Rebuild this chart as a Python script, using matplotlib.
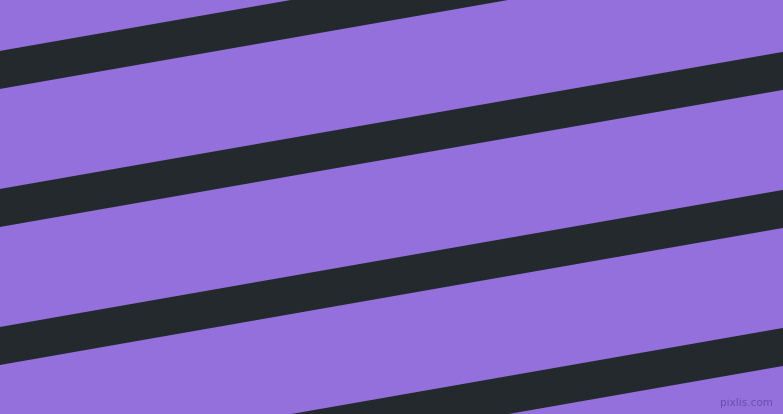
import numpy as np
import matplotlib
matplotlib.use("Agg")
import matplotlib.pyplot as plt

# stripe top edges where they meet the left border (pixels from the top)
stripe_tops = [51, 189, 327, 465]
stripe_width = 38
slope = -0.175  # rise per pixel going right

width, height = 783, 414
bg_color = "#9370db"
stripe_color = "#23292d"

fig = plt.figure(figsize=(width / 100, height / 100 + 0.001), dpi=100)
ax = fig.add_axes([0, 0, 1, 1])
ax.set_facecolor(bg_color)
fig.patch.set_facecolor(bg_color)

x = np.array([0, width])
for top in stripe_tops:
    y1 = top + slope * x
    ax.fill_between(x, y1, y1 + stripe_width, color=stripe_color, linewidth=0)

ax.text(773, 403, "pixlis.com", ha="right", va="center", fontsize=7.5,
        color="#6a4fae")

ax.set_xlim(0, width)
ax.set_ylim(height, 0)
ax.axis("off")

fig.savefig("out.png", dpi=100, facecolor=bg_color)
